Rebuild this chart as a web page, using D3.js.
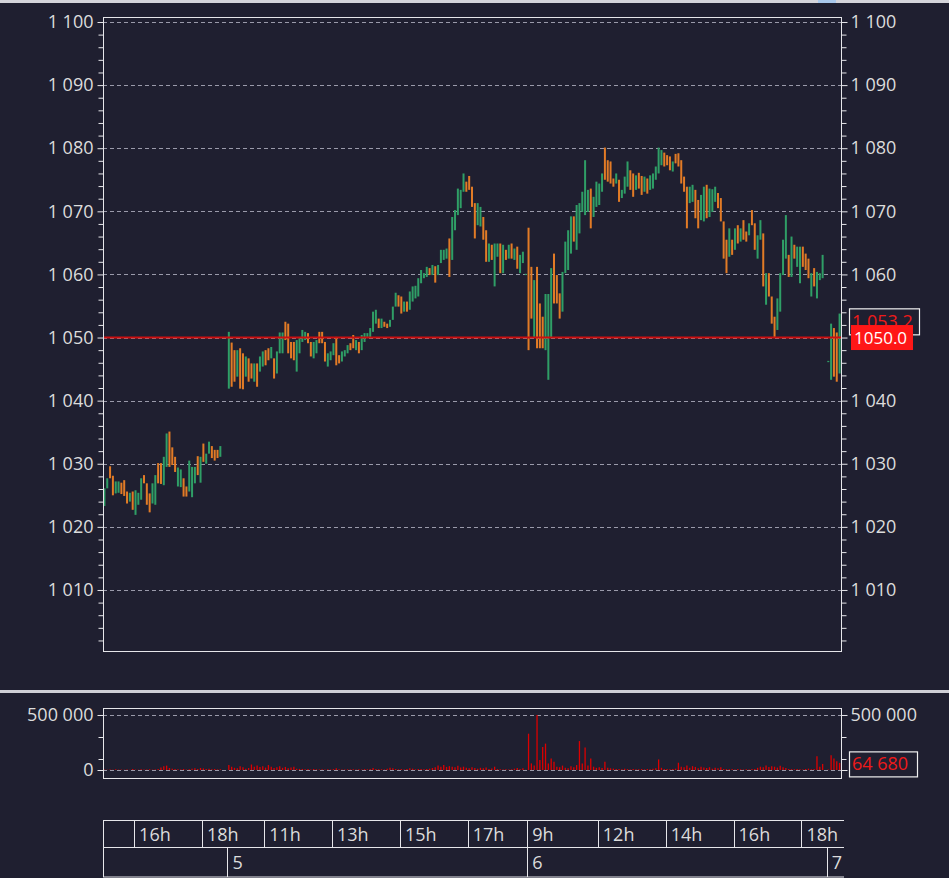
<!DOCTYPE html>
<html><head><meta charset="utf-8">
<script src="https://cdn.jsdelivr.net/npm/d3@7"></script>
<style>html,body{margin:0;padding:0;background:#1f1f30;overflow:hidden} svg{display:block;font-family:"Open Sans",sans-serif;}</style>
</head><body><svg id="c" width="949" height="878"></svg>
<script>
// ---------------- DATA ----------------
const sessionDays  = ["4", "5", "6", "7"];
const sessionOpen  = ["15:05", "09:55", "09:55", "09:55"];
const sessionBars  = [44, 106, 106, 5];
const barMinutes   = 5;
const visibleSlots = 261;

const hi4 = [1026.1,1027.7,1029.6,1028.1,1027.2,1027.2,1027.0,1027.4,1025.6,1025.4,
 1025.6,1025.8,1025.4,1027.7,1028.2,1026.9,1025.3,1026.9,1028.2,1030.1,
 1030.1,1031.1,1034.8,1035.1,1032.6,1031.1,1029.4,1029.1,1027.7,1026.4,
 1030.5,1029.5,1029.5,1031.2,1031.1,1033.2,1031.6,1033.5,1032.8,1032.2,
 1032.2,1032.8,null,null];
const lo4 = [1023.3,1026.1,1027.7,1025.0,1025.3,1025.4,1025.2,1024.9,1023.7,1024.0,
 1022.7,1021.9,1023.5,1024.3,1026.9,1023.5,1022.3,1023.7,1023.5,1026.9,
 1026.8,1026.6,1029.5,1029.5,1029.8,1028.7,1026.4,1026.3,1024.8,1024.8,
 1025.6,1024.7,1026.9,1028.2,1027.0,1030.3,1030.0,1031.6,1030.9,1030.5,
 1030.9,1031.1,null,null];
const dir4 = "GGOOGGOOOGOGGGOOOGGOOGGOOOGGOOGGGOGOGGOOOG--";
const vol4 = [4,3,5,2,6,3,4,2,5,3,8,4,3,6,5,4,7,3,5,9,22,35,40,18,12,8,6,5,9,4,6,12,15,10,18,14,9,11,6,8,5,7,0,0];

const hi5 = [1050.9,1049.2,1048.0,1048.0,1048.3,1047.5,1047.0,1046.7,1045.9,1045.9,
 1045.9,1047.0,1047.8,1048.0,1048.3,1048.5,1046.7,1047.8,1050.8,1050.8,
 1052.5,1052.2,1049.3,1049.3,1049.6,1050.1,1051.2,1050.9,1050.7,1049.3,
 1049.3,1049.6,1050.9,1050.9,1049.3,1047.5,1047.8,1049.1,1050.1,1047.2,
 1047.8,1048.0,1048.8,1049.1,1050.4,1049.6,1049.3,1050.4,1050.7,1050.7,
 1051.5,1054.1,1054.4,1053.0,1053.0,1052.5,1052.2,1052.8,1054.9,1057.1,
 1056.7,1056.5,1055.7,1055.7,1057.3,1058.1,1058.2,1059.4,1060.7,1060.2,
 1061.2,1061.0,1061.5,1061.3,1061.5,1063.9,1063.9,1064.1,1065.7,1069.1,
 1070.2,1073.6,1073.4,1076.0,1074.7,1075.6,1073.9,1071.3,1071.3,1070.7,
 1069.1,1067.0,1064.9,1064.7,1064.9,1064.9,1064.9,1064.7,1063.9,1064.7,
 1064.9,1064.1,1064.4,1063.1,1063.6,1060.1];
const lo5 = [1041.9,1042.2,1043.0,1043.8,1041.9,1041.8,1043.8,1043.0,1043.5,1043.0,
 1042.2,1044.6,1045.4,1045.6,1046.4,1046.7,1043.5,1044.3,1047.5,1047.5,
 1049.6,1047.5,1046.7,1046.4,1044.6,1047.5,1049.3,1049.6,1049.1,1047.0,
 1046.7,1047.5,1049.1,1049.1,1046.2,1045.4,1046.4,1047.2,1045.6,1045.9,
 1046.2,1047.0,1047.5,1048.0,1048.3,1048.0,1047.5,1048.0,1049.3,1050.1,
 1049.9,1050.9,1052.2,1051.5,1051.5,1051.7,1051.5,1051.7,1052.8,1054.9,
 1054.9,1053.8,1054.1,1054.1,1054.4,1055.7,1056.2,1056.5,1058.6,1059.4,
 1059.6,1059.9,1059.9,1058.7,1059.9,1061.8,1062.3,1062.5,1059.6,1062.3,
 1067.0,1069.4,1070.5,1073.1,1073.1,1073.4,1070.7,1065.7,1067.8,1067.6,
 1065.5,1062.0,1062.0,1062.3,1058.1,1062.8,1060.2,1060.2,1062.3,1062.5,
 1062.5,1062.3,1060.9,1060.2,1061.8,1059.9];
const dir5 = "GOOGOOGOOG" + "OGGOOGOGGG" + "OOOOGGGGOO" + "GGOOOGGGOO" + "GGGOOGOGGG" +
             "GGGOGOOGGG" + "OOGOGGGGGG" + "GOGOGGGGOG" + "GGGGOOOOGG" + "OOGOGGOGOG" + "OGOGGG";
const vol5 = [45,30,20,15,35,25,12,18,50,30,40,28,35,22,45,30,18,25,35,20,28,15,22,30,12,
 10,8,6,10,5,8,6,4,7,5,6,4,8,15,6,5,4,6,5,7,4,6,5,8,6,9,18,8,6,7,5,12,20,15,8,6,10,5,8,15,12,6,8,10,7,9,12,18,
 25,40,30,45,28,35,30,25,38,22,30,20,15,25,18,12,20,15,22,10,14,30,8,6,5,7,4,6,12,18,10,15,3];

const hi6 = [1067.4,1061.2,1059.1,1061.2,1055.4,1053.3,1056.9,1056.9,1061.0,1063.3,
 1059.9,1057.0,1060.4,1065.2,1067.0,1069.2,1069.2,1071.0,1071.3,1073.1,
 1078.1,1073.4,1073.6,1072.3,1074.7,1074.4,1076.0,1080.1,1078.1,1077.9,
 1075.2,1076.0,1075.0,1073.4,1075.5,1077.9,1076.5,1076.0,1075.7,1076.1,
 1075.6,1075.5,1075.2,1075.7,1076.0,1077.1,1080.1,1079.7,1079.3,1078.9,
 1078.7,1077.9,1079.1,1079.2,1078.1,1075.5,1073.9,1073.9,1074.2,1073.4,
 1071.8,1072.6,1073.9,1074.2,1073.6,1073.5,1073.9,1072.9,1072.1,1068.4,
 1065.5,1067.3,1065.5,1067.3,1067.8,1067.3,1068.6,1066.8,1068.1,1070.2,
 1068.1,1066.2,1068.6,1066.5,1060.2,1060.2,1056.5,1053.3,1056.2,1060.2,
 1065.5,1069.4,1063.1,1066.0,1064.7,1064.4,1064.4,1064.4,1063.3,1062.5,
 1060.2,1061.0,1060.4,1060.2,1063.1,null];
const lo6 = [1048.0,1053.0,1050.1,1048.3,1048.3,1048.3,1048.0,1043.3,1049.9,1055.4,
 1055.4,1053.0,1054.1,1060.2,1060.7,1063.3,1065.2,1063.9,1066.5,1069.9,
 1069.4,1069.9,1067.3,1069.1,1070.7,1071.0,1073.1,1075.0,1074.7,1074.4,
 1073.9,1074.4,1071.5,1072.1,1072.8,1073.9,1073.4,1072.3,1073.4,1073.6,
 1072.6,1073.1,1072.8,1073.4,1073.6,1075.0,1076.0,1077.3,1077.1,1077.3,
 1076.5,1076.3,1077.6,1077.1,1074.4,1073.1,1067.3,1071.3,1071.5,1068.9,
 1067.3,1068.6,1068.4,1068.9,1069.1,1069.9,1071.5,1070.5,1068.4,1062.5,
 1060.2,1062.8,1063.1,1063.9,1064.9,1065.2,1065.5,1065.2,1066.2,1067.8,
 1063.9,1062.5,1065.5,1058.1,1055.2,1056.5,1052.2,1050.1,1051.2,1054.1,
 1059.9,1062.5,1059.6,1059.6,1062.5,1061.2,1058.6,1061.2,1060.7,1059.4,
 1056.5,1058.1,1056.2,1059.1,1059.4,null];
const dir6 = "OOGOOOGGGO" + "OOGGGGOGGG" + "GGOGGGGOOO" + "OGOGGGOOGO" + "OGOGGGGGOO" +
             "OGOOOOOGGO" + "OGGOGGGOOO" + "OGOGOGOOGO" + "OGGOGOOOGG" + "GGOGOGGOOO" + "GOGGG-";
const vol6 = [330,60,40,500,90,210,240,60,105,75,
 30,25,40,20,15,35,25,45,263,60,
 204,40,105,30,20,25,18,75,20,15,
 12,8,10,6,12,8,5,10,7,6,
 9,5,8,6,12,15,96,20,10,8,
 6,10,12,66,30,25,40,20,35,28,
 15,30,22,18,25,12,20,15,25,10,
 8,6,10,5,8,6,4,7,5,8,
 10,20,30,25,40,28,35,30,22,38,
 25,18,10,8,6,10,7,5,8,12,
 6,10,125,30,55,0];

const hi7 = [1046.3,1052.2,1051.5,1050.8,1053.8];
const lo7 = [1046.1,1043.3,1043.8,1043.0,1044.3];
const dir7 = "GGOOG";
const vol7 = [5,135,105,80,64.68];

const priceTicks = [1010,1020,1030,1040,1050,1060,1070,1080,1090,1100];
const priceMinorStep = 2;
const volTicks = [0, 500000];
const volMinorTicks = [100000, 300000];
const hourTicks = [["4","16:00","16h"],["4","18:00","18h"],["5","11:00","11h"],["5","13:00","13h"],
  ["5","15:00","15h"],["5","17:00","17h"],["6","09:55","9h"],["6","12:00","12h"],["6","14:00","14h"],
  ["6","16:00","16h"],["6","18:00","18h"]];
const dayTicks = ["5","6","7"];
const refLevel = 1050.0;
const lastPrice = 1053.2;
const lastVolume = 64680;

// ---------------- BUILD ----------------
const his=[hi4,hi5,hi6,hi7], los=[lo4,lo5,lo6,lo7], dirs=[dir4,dir5,dir6,dir7], vols=[vol4,vol5,vol6,vol7];
const bars=[]; const dayStart={}; let off=0;
sessionDays.forEach((d,k)=>{
  dayStart[d]=off;
  for(let j=0;j<sessionBars[k];j++){
    bars.push({slot:off+j, hi:his[k][j], lo:los[k][j], up:dirs[k][j]==="G", vol:vols[k][j]*1000});
  }
  off+=sessionBars[k];
});
function slotOf(day,time){
  const k=sessionDays.indexOf(day);
  const [h,m]=time.split(":").map(Number), [h0,m0]=sessionOpen[k].split(":").map(Number);
  return dayStart[day]+((h*60+m)-(h0*60+m0))/barMinutes;
}

const W=949,H=878;
const L=103,R=841, PT=17,PB=651, VT=708,VB=778, AT=820,AM=847,AB=877;
const BG="#1f1f30", FG="#dcdcdc", GREEN="#2f9e66", ORANGE="#e27b26", RED="#cc0f0f";
const FS="18px";
const loc=d3.formatLocale({decimal:".",thousands:" ",grouping:[3],currency:["",""]});
const fInt=loc.format(",d"), f1=loc.format(",.1f");

const svg=d3.select("#c");
svg.append("rect").attr("width",W).attr("height",H).attr("fill",BG);
svg.append("rect").attr("x",0).attr("y",0).attr("width",W).attr("height",3).attr("fill","#d4d4da");
svg.append("rect").attr("x",818).attr("y",0).attr("width",18).attr("height",3).attr("fill","#a9c8ec");

const x=d3.scaleLinear().domain([0,visibleSlots]).range([L,R]);
const yP=d3.scaleLinear().domain([1000.33,1100.79]).range([PB,PT]);
const yV=d3.scaleLinear().domain([-72727,563636]).range([VB,VT]);

svg.append("clipPath").attr("id","cp").append("rect").attr("x",L).attr("y",PT).attr("width",R-L).attr("height",PB-PT);
svg.append("clipPath").attr("id","cv").append("rect").attr("x",L).attr("y",VT).attr("width",R-L).attr("height",VB-VT);

// ---- price grid
svg.append("g").selectAll("line").data(priceTicks).join("line")
  .attr("x1",L).attr("x2",R).attr("y1",d=>Math.round(yP(d))+0.5).attr("y2",d=>Math.round(yP(d))+0.5)
  .attr("stroke","#9a9aaa").attr("stroke-dasharray","4,3").attr("stroke-width",1);

// ---- price bars
svg.append("g").attr("clip-path","url(#cp)").selectAll("rect").data(bars.filter(b=>b.hi!=null)).join("rect")
  .attr("x",b=>x(b.slot+0.5)-1).attr("width",2)
  .attr("y",b=>yP(b.hi)).attr("height",b=>Math.max(1,yP(b.lo)-yP(b.hi)))
  .attr("fill",b=>b.up?GREEN:ORANGE);

// ---- reference line
svg.append("line").attr("x1",L).attr("x2",R).attr("y1",yP(refLevel)).attr("y2",yP(refLevel))
  .attr("stroke",RED).attr("stroke-width",2);

// ---- frame
svg.append("rect").attr("x",L+0.5).attr("y",PT+0.5).attr("width",R-L).attr("height",PB-PT)
  .attr("fill","none").attr("stroke","#e6e6ea").attr("stroke-width",1);

function styleAxis(g){
  g.select(".domain").remove();
  g.selectAll("line").attr("stroke","#e6e6ea");
  g.selectAll("text").attr("fill",FG).attr("font-size",FS).attr("font-family","Open Sans, sans-serif");
}
const minorP=d3.range(1002,1101,priceMinorStep).filter(v=>!priceTicks.includes(v));
svg.append("g").attr("transform",`translate(${L+0.5},0)`).call(d3.axisLeft(yP).tickValues(minorP).tickSize(5).tickFormat("")).call(styleAxis);
svg.append("g").attr("transform",`translate(${R+0.5},0)`).call(d3.axisRight(yP).tickValues(minorP).tickSize(5).tickFormat("")).call(styleAxis);
svg.append("g").attr("transform",`translate(${L+0.5},0)`).call(d3.axisLeft(yP).tickValues(priceTicks).tickSize(6).tickPadding(4).tickFormat(fInt)).call(styleAxis);
// right labels: the level at the reference line is covered by the value boxes
svg.append("g").attr("transform",`translate(${R+0.5},0)`)
  .call(d3.axisRight(yP).tickValues(priceTicks).tickSize(6).tickPadding(3).tickFormat(d=>d===refLevel?"":fInt(d))).call(styleAxis);

// ---- last price labels
const lpY=yP(lastPrice)+4.5;
svg.append("rect").attr("x",849.5).attr("y",lpY-13).attr("width",70).attr("height",26)
  .attr("fill",BG).attr("stroke","#f0f0f0").attr("stroke-width",1.2);
svg.append("text").attr("x",852).attr("y",lpY).attr("dy","0.36em").attr("fill","#ee1a1a")
  .attr("font-size",FS).text(f1(lastPrice));
const rY=yP(refLevel);
svg.append("rect").attr("x",851).attr("y",rY-12.5).attr("width",62).attr("height",25).attr("fill","#ff1717");
svg.append("text").attr("x",854).attr("y",rY).attr("dy","0.36em").attr("fill","#ffffff")
  .attr("font-size","17px").text(d3.format(".1f")(refLevel));

// ---- pane separator
svg.append("rect").attr("x",0).attr("y",690).attr("width",W).attr("height",3).attr("fill","#cfcfd6");

// ---- volume pane
svg.append("g").selectAll("line").data(volTicks).join("line")
  .attr("x1",L).attr("x2",R).attr("y1",d=>Math.round(yV(d))+0.5).attr("y2",d=>Math.round(yV(d))+0.5)
  .attr("stroke","#9a9aaa").attr("stroke-dasharray","4,3");
svg.append("g").attr("clip-path","url(#cv)").selectAll("line").data(bars.filter(b=>b.vol>0)).join("line")
  .attr("x1",b=>x(b.slot+0.5)).attr("x2",b=>x(b.slot+0.5))
  .attr("y1",yV(0)).attr("y2",b=>yV(b.vol)).attr("stroke","#dc0000").attr("stroke-width",1.3);
svg.append("rect").attr("x",L+0.5).attr("y",VT+0.5).attr("width",R-L).attr("height",VB-VT)
  .attr("fill","none").attr("stroke","#e6e6ea");
svg.append("g").attr("transform",`translate(${L+0.5},0)`).call(d3.axisLeft(yV).tickValues(volMinorTicks).tickSize(5).tickFormat("")).call(styleAxis);
svg.append("g").attr("transform",`translate(${R+0.5},0)`).call(d3.axisRight(yV).tickValues(volMinorTicks).tickSize(5).tickFormat("")).call(styleAxis);
svg.append("g").attr("transform",`translate(${L+0.5},0)`).call(d3.axisLeft(yV).tickValues(volTicks).tickSize(6).tickPadding(4).tickFormat(fInt)).call(styleAxis);
// right label for 0 is covered by the last-volume box
svg.append("g").attr("transform",`translate(${R+0.5},0)`)
  .call(d3.axisRight(yV).tickValues(volTicks).tickSize(6).tickPadding(3).tickFormat(d=>d===0?"":fInt(d))).call(styleAxis);
const lvY=yV(lastVolume)+1;
svg.append("rect").attr("x",849.5).attr("y",lvY-12).attr("width",68).attr("height",25)
  .attr("fill",BG).attr("stroke","#f0f0f0").attr("stroke-width",1.2);
svg.append("text").attr("x",852).attr("y",lvY).attr("dy","0.36em").attr("fill","#ee1a1a")
  .attr("font-size",FS).text(fInt(lastVolume));

// ---- time axis
svg.append("clipPath").attr("id","ct").append("rect").attr("x",L-1).attr("y",AT-1).attr("width",R-L+4).attr("height",AB-AT+3);
const gt=svg.append("g").attr("clip-path","url(#ct)");
const ax=R+3;
[AT,AM,AB-0.5].forEach(yy=>gt.append("line").attr("x1",L).attr("x2",ax).attr("y1",yy+0.5).attr("y2",yy+0.5).attr("stroke","#e6e6ea"));
gt.append("line").attr("x1",L+0.5).attr("x2",L+0.5).attr("y1",AT).attr("y2",AB).attr("stroke","#e6e6ea");
const hs=hourTicks.map(t=>({s:slotOf(t[0],t[1]),lab:t[2]}));
gt.selectAll("line.h").data(hs).join("line").attr("class","h")
  .attr("x1",d=>Math.round(x(d.s))+0.5).attr("x2",d=>Math.round(x(d.s))+0.5).attr("y1",AT).attr("y2",AM)
  .attr("stroke","#e6e6ea");
gt.selectAll("text.h").data(hs).join("text").attr("class","h")
  .attr("x",d=>x(d.s)+5).attr("y",(AT+AM)/2+1).attr("dy","0.36em").attr("fill",FG).attr("font-size",FS).text(d=>d.lab);
const ds=dayTicks.map(d=>({s:dayStart[d],lab:d}));
gt.selectAll("line.d").data(ds).join("line").attr("class","d")
  .attr("x1",d=>Math.round(x(d.s))+0.5).attr("x2",d=>Math.round(x(d.s))+0.5).attr("y1",AM).attr("y2",AB)
  .attr("stroke","#e6e6ea");
gt.selectAll("text.d").data(ds).join("text").attr("class","d")
  .attr("x",d=>x(d.s)+5).attr("y",(AM+AB)/2+1).attr("dy","0.36em").attr("fill",FG).attr("font-size",FS).text(d=>d.lab);
</script></body></html>
